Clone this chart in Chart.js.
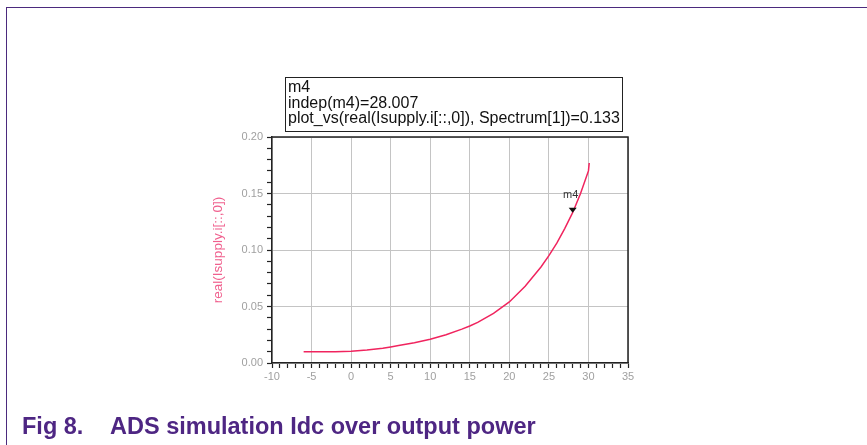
<!DOCTYPE html>
<html>
<head>
<meta charset="utf-8">
<script src="https://cdn.jsdelivr.net/npm/chart.js@4.4.1/dist/chart.umd.min.js"></script>
<style>
	html, body { margin: 0; padding: 0; background: #fff; }
	#page { position: relative; width: 867px; height: 445px; overflow: hidden; font-family: Arial, "Liberation Sans", sans-serif; }
	#frame-left { position: absolute; left: 6px; top: 7px; width: 1px; height: 438px; background: #4b2a7d; }
	#frame-top { position: absolute; left: 6px; top: 7px; width: 861px; height: 1px; background: #4b2a7d; }
	#chart { position: absolute; left: 0; top: 0; }
	#mk-box { position: absolute; left: 285px; top: 77px; width: 334px; height: 52px; border: 1.5px solid #222; font-size: 16px; line-height: 15.5px; color: #111; padding: 1px 0 0 2px; white-space: nowrap; }
	.cap { position: absolute; top: 413px; line-height: 26px; font-weight: bold; font-size: 23.5px; color: #4e2683; white-space: nowrap; }
</style>
</head>
<body>
<div id="page">
	<div id="frame-left"></div>
	<div id="frame-top"></div>
	<canvas id="chart" width="867" height="445"></canvas>
	<div id="mk-box">m4<br>indep(m4)=28.007<br>plot_vs(real(Isupply.i[::,0]), Spectrum[1])=0.133</div>
	<div class="cap" style="left:22px">Fig 8.</div>
	<div class="cap" style="left:110px">ADS simulation Idc over output power</div>
</div>
<script>
// output power sweep (dBm) and real(Isupply.i) in A
var pout = [-6, -4, -2, 0, 2, 4, 5, 6, 8, 10, 12, 14, 15, 16, 18, 20, 22, 24, 25, 26, 27, 28, 29, 30, 30.1];
var idc = [0.010, 0.010, 0.010, 0.0105, 0.0115, 0.013, 0.0142, 0.0155, 0.018, 0.021, 0.025, 0.030, 0.0327, 0.036, 0.044, 0.054, 0.068, 0.085, 0.095, 0.106, 0.119, 0.133, 0.150, 0.170, 0.177];

var xTicks = [-10, -5, 0, 5, 10, 15, 20, 25, 30, 35];
var yTicks = ['0.00', '0.05', '0.10', '0.15', '0.20'];

var markerX = 28.007;
var markerY = 0.133;

var GRID = '#c4c4c4';
var AXIS = '#222';

function isMajorX(v) { return Math.round(v) % 5 === 0; }
function isMajorY(v) { return Math.round(v * 100) % 5 === 0; }

var framePlugin = {
	id: 'frame',
	afterDraw: function (chart) {
		var a = chart.chartArea, c = chart.ctx;
		c.save();
		c.strokeStyle = AXIS;
		c.lineWidth = 1.5;
		c.beginPath();
		c.moveTo(a.left, a.top);
		c.lineTo(a.right, a.top);
		c.lineTo(a.right, a.bottom);
		c.stroke();

		// marker m4
		var px = chart.scales.x.getPixelForValue(markerX);
		var py = chart.scales.y.getPixelForValue(markerY);
		c.fillStyle = '#111';
		c.beginPath();
		c.moveTo(px, py);
		c.lineTo(px - 4, py - 5);
		c.lineTo(px + 4, py - 5);
		c.closePath();
		c.fill();
		c.fillStyle = '#333';
		c.font = '11px Arial';
		c.textAlign = 'center';
		c.fillText('m4', px - 2, py - 15);
		c.restore();
	}
};

new Chart(document.getElementById('chart'), {
	type: 'scatter',
	data: {
		datasets: [{
			data: pout.map(function (p, i) { return { x: p, y: idc[i] }; }),
			showLine: true,
			borderColor: '#f0245e',
			borderWidth: 1.5,
			pointRadius: 0,
			tension: 0
		}]
	},
	options: {
		responsive: false,
		animation: false,
		layout: { padding: { left: 210, right: 239, top: 137, bottom: 57 } },
		plugins: { legend: { display: false }, tooltip: { enabled: false } },
		scales: {
			x: {
				type: 'linear', min: -10, max: 35,
				afterFit: function (s) { s.height = 25; },
				ticks: {
					stepSize: 1, autoSkip: false, maxTicksLimit: 100, maxRotation: 0,
					color: '#a0a0a0', font: { size: 11, family: 'Arial' }, padding: 2,
					callback: function (v) { return isMajorX(v) ? String(xTicks[xTicks.indexOf(Math.round(v))]) : ''; }
				},
				grid: {
					color: function (c) { return c.tick && isMajorX(c.tick.value) ? GRID : 'rgba(0,0,0,0)'; },
					tickColor: AXIS, tickLength: 5, tickWidth: 1.2
				},
				border: { display: true, color: AXIS, width: 1.5 }
			},
			y: {
				type: 'linear', min: 0, max: 0.2,
				afterFit: function (s) { s.width = 62; },
				ticks: {
					stepSize: 0.01, autoSkip: false, maxTicksLimit: 100,
					color: '#a0a0a0', font: { size: 11, family: 'Arial' }, padding: 4,
					callback: function (v) { return isMajorY(v) ? yTicks[Math.round(v * 20)] : ''; }
				},
				grid: {
					color: function (c) { return c.tick && isMajorY(c.tick.value) ? GRID : 'rgba(0,0,0,0)'; },
					tickColor: AXIS, tickLength: 5, tickWidth: 1.2
				},
				border: { display: true, color: AXIS, width: 1.5 },
				title: {
					display: true, text: 'real(Isupply.i[::,0])', color: '#f0608e',
					font: { size: 13.5, family: 'Arial' }, padding: 0
				}
			}
		}
	},
	plugins: [framePlugin]
});
</script>
</body>
</html>
